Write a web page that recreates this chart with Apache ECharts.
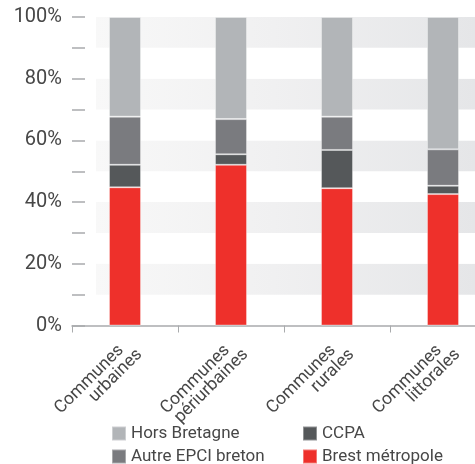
<!DOCTYPE html>
<html>
<head>
<meta charset="utf-8">
<script src="https://cdn.jsdelivr.net/npm/echarts@6/dist/echarts.min.js"></script>
<style>
	html, body { margin: 0; padding: 0; background: #fff; }
	#chart { width: 475px; height: 464px; }
</style>
</head>
<body>
<div id="chart"></div>
<script>
	// catégories de communes
	var categories = ['Communes\nurbaines', 'Communes\npériurbaines', 'Communes\nrurales', 'Communes\nlittorales'];
	// parts en %
	var brestMetropole = [44.8, 52.1, 44.5, 42.6];
	var ccpa = [7.3, 3.4, 12.4, 2.7];
	var autreEpci = [15.6, 11.4, 10.8, 11.8];
	var horsBretagne = [32.3, 33.1, 32.3, 42.9];

	var textColor = '#474747';
	var font = 'Roboto';

	var bandFill = {
		type: 'linear', x: 72, y: 0, x2: 475, y2: 0, global: true,
		colorStops: [
			{ offset: 0, color: '#ffffff' },
			{ offset: 0.059, color: '#ffffff' },
			{ offset: 0.06, color: '#f8f8f8' },
			{ offset: 0.5, color: '#f0f0f1' },
			{ offset: 1, color: '#e5e6e8' }
		]
	};

	function serie(name, data, color) {
		return {
			name: name,
			type: 'bar',
			stack: 'total',
			barWidth: 32,
			data: data,
			itemStyle: { color: color, borderColor: 'rgba(255,255,255,0.35)', borderWidth: 1 }
		};
	}

	// une légende par entrée pour placer la grille 2x2
	function legende(name, left, top) {
		return {
			left: left, top: top,
			padding: 0,
			itemWidth: 14, itemHeight: 14,
			icon: 'rect',
			textStyle: { fontFamily: font, fontSize: 17, color: textColor },
			data: [name]
		};
	}

	var myChart = echarts.init(document.getElementById('chart'));
	var option = {
		animation: false,
		grid: { left: 72, top: 17, width: 424, bottom: 138.5, outerBoundsMode: 'none', containLabel: false },
		legend: [
			legende('Hors Bretagne', 111, 425),
			legende('Autre EPCI breton', 111, 448),
			legende('CCPA', 302, 425),
			legende('Brest métropole', 302, 448)
		],
		xAxis: {
			type: 'category',
			data: categories,
			axisLine: { lineStyle: { color: '#a9abad', width: 1.5 } },
			axisTick: { show: true, length: 7, lineStyle: { color: '#a9abad' } },
			axisLabel: {
				rotate: 45,
				interval: 0,
				margin: 12,
				padding: [25, 0, 0, 0],
				color: textColor,
				formatter: function (v) {
					var p = v.split('\n');
					return '{a|' + p[0] + '}\n{b|' + p[1] + '}';
				},
				rich: {
					a: { fontFamily: font, fontSize: 17.5, lineHeight: 16, color: textColor, padding: [0, 10, 0, 0] },
					b: { fontFamily: font, fontSize: 17.5, lineHeight: 16, color: textColor }
				}
			}
		},
		yAxis: {
			type: 'value',
			min: 0, max: 100, interval: 10,
			axisLine: { show: false },
			axisTick: { show: true, inside: true, length: 13, lineStyle: { color: '#a9abad', width: 1.5 } },
			splitLine: { show: false },
			splitArea: { show: true, areaStyle: { color: ['#ffffff', bandFill] } },
			axisLabel: {
				margin: 10,
				fontFamily: font,
				fontSize: 20,
				color: textColor,
				formatter: function (v) { return v % 20 === 0 ? v + '%' : ''; }
			}
		},
		series: [
			serie('Brest métropole', brestMetropole, '#ee302b'),
			serie('CCPA', ccpa, '#55585a'),
			serie('Autre EPCI breton', autreEpci, '#7a7b7f'),
			serie('Hors Bretagne', horsBretagne, '#b2b5b8')
		]
	};
	myChart.setOption(option);
</script>
</body>
</html>
